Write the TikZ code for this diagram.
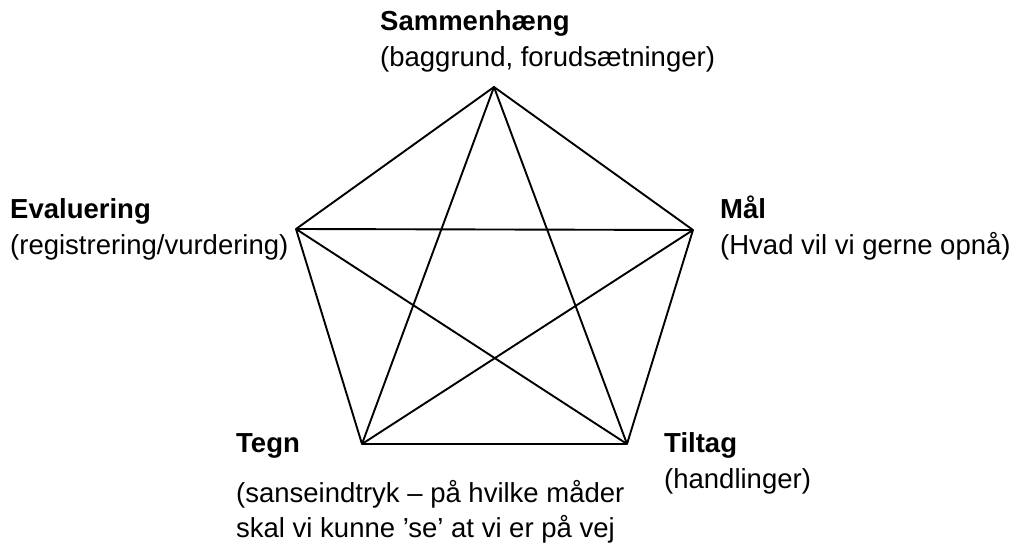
\documentclass[tikz,border=0pt]{standalone}
\usepackage{fontspec}
\setmainfont{Liberation Sans}
\begin{document}
\begin{tikzpicture}[x=1bp,y=-1bp,
  edge/.style={line width=1.9bp,black,line join=round},
  lbl/.style={anchor=base west,inner sep=0pt,font=\fontsize{27.5bp}{35bp}\selectfont},
  head/.style={lbl,font=\fontsize{27.5bp}{35bp}\selectfont\bfseries}]
\useasboundingbox (0,0) rectangle (1019,546);
\coordinate (A) at (494,87);
\coordinate (B) at (693,230);
\coordinate (C) at (627,444);
\coordinate (D) at (362,444);
\coordinate (E) at (296,229);
\draw[edge] (A) -- (B) -- (C) -- (D) -- (E) -- cycle;
\draw[edge] (A) -- (C);
\draw[edge] (A) -- (D);
\draw[edge] (B) -- (D);
\draw[edge] (B) -- (E);
\draw[edge] (C) -- (E);
\node[head] (samh) at (380,31) {Sammenhæng};
\node[lbl] (samhsub) at (380,67) {(baggrund, forudsætninger)};
\node[head] (eval) at (10,219) {Evaluering};
\node[lbl] (evalsub) at (10,255) {(registrering/vurdering)};
\node[head] (maal) at (720,219) {Mål};
\node[lbl] (maalsub) at (720,255) {(Hvad vil vi gerne opnå)};
\node[head] (tegn) at (236,452) {Tegn};
\node[lbl] (tegnsub1) at (236,502) {(sanseindtryk – på hvilke måder};
\node[lbl] (tegnsub2) at (236,537) {skal vi kunne ’se’ at vi er på vej};
\node[head] (tilt) at (664,452) {Tiltag};
\node[lbl] (tiltsub) at (664,488) {(handlinger)};
\end{tikzpicture}
\end{document}
